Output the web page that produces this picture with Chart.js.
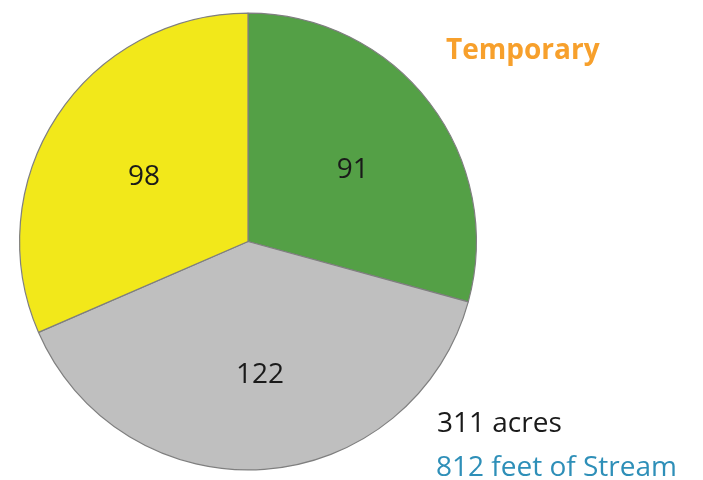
<!DOCTYPE html>
<html>
<head>
<meta charset="utf-8">
<script src="https://cdn.jsdelivr.net/npm/chart.js@4"></script>
<style>
  html, body { margin: 0; padding: 0; background: #fff; }
  #wrap { width: 703px; height: 480px; position: relative; }
</style>
</head>
<body>
<div id="wrap"><canvas id="pie"></canvas></div>
<script>
// chart data
const categories = ['Green', 'Gray', 'Yellow'];
const values = [91, 122, 98];
const sliceColors = ['#54A046', '#BFBFBF', '#F2E81A'];

const titleText = 'Temporary';
const acresText = '311 acres';
const streamText = '812 feet of Stream';

const FONT = '"Open Sans", sans-serif';

const textPlugin = {
    id: 'textPlugin',
    afterDatasetsDraw(chart) {
        const ctx = chart.ctx;
        const meta = chart.getDatasetMeta(0);
        ctx.save();
        ctx.textAlign = 'center';
        ctx.textBaseline = 'middle';
        ctx.fillStyle = '#1a1a1a';
        ctx.font = '28px ' + FONT;
        meta.data.forEach((arc, i) => {
            const p = arc.getProps(['x', 'y', 'startAngle', 'endAngle', 'outerRadius']);
            const mid = (p.startAngle + p.endAngle) / 2;
            const r = p.outerRadius * 0.56;
            ctx.fillText(String(values[i]), p.x + Math.cos(mid) * r + 3, p.y + Math.sin(mid) * r + 6);
        });

        ctx.textAlign = 'left';
        ctx.fillStyle = '#F7A02C';
        ctx.font = 'bold 28px ' + FONT;
        ctx.fillText(titleText, 446, 51);

        ctx.fillStyle = '#1a1a1a';
        ctx.font = '28px ' + FONT;
        ctx.fillText(acresText, 437, 424);

        ctx.fillStyle = '#2E8FB8';
        ctx.fillText(streamText, 436, 468);
        ctx.restore();
    }
};

new Chart(document.getElementById('pie'), {
    type: 'pie',
    data: {
        labels: categories,
        datasets: [{
            data: values,
            backgroundColor: sliceColors,
            borderColor: '#7F7F7F',
            borderWidth: 1.2
        }]
    },
    options: {
        responsive: true,
        maintainAspectRatio: false,
        animation: false,
        layout: {
            padding: { left: 19, right: 226, top: 12, bottom: 9 }
        },
        plugins: {
            legend: { display: false },
            tooltip: { enabled: false },
            title: { display: false }
        }
    },
    plugins: [textPlugin]
});
</script>
</body>
</html>
